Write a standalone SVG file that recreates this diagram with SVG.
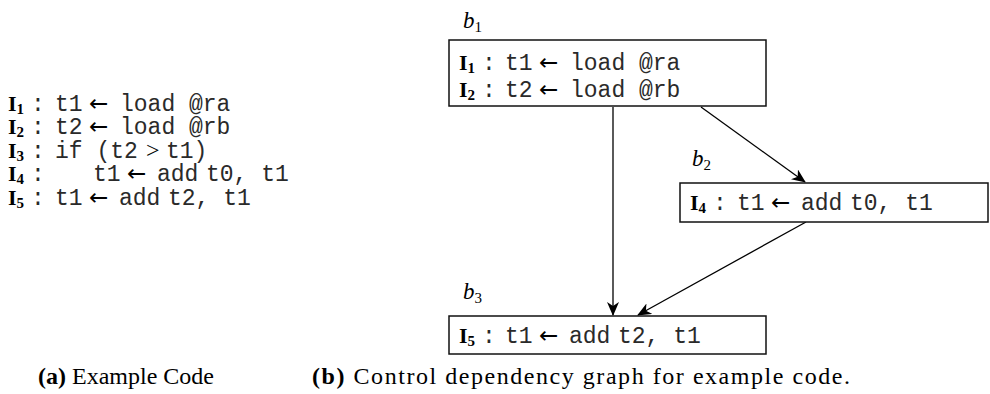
<svg xmlns="http://www.w3.org/2000/svg" width="990" height="394" viewBox="0 0 990 394">
<defs>
<style>
.m{font-family:"Liberation Mono","DejaVu Sans Mono",monospace;font-size:23px;fill:#2a2a2a}
.i{font-family:"Liberation Serif","DejaVu Serif",serif;font-weight:bold;font-size:22px;fill:#000}
.s{font-family:"Liberation Serif","DejaVu Serif",serif;font-weight:bold;font-size:15px;fill:#000}
.ar{font-family:"DejaVu Sans","Liberation Sans",sans-serif;font-size:23px;fill:#000}
.gt{font-family:"Liberation Serif","DejaVu Serif",serif;font-size:24px;fill:#000}
.lb{font-family:"Liberation Serif","DejaVu Serif",serif;font-style:italic;font-size:23px;fill:#000}
.ls{font-family:"Liberation Serif","DejaVu Serif",serif;font-size:15px;fill:#000}
.cap{font-family:"Liberation Serif","DejaVu Serif",serif;font-size:24px;fill:#000}
.box{fill:#fff;stroke:#111;stroke-width:1.5}
.edge{fill:none;stroke:#000;stroke-width:1.3}
</style>
<marker id="ah" viewBox="0 0 14 12" refX="13" refY="6" markerWidth="14" markerHeight="12" markerUnits="userSpaceOnUse" orient="auto">
<path d="M0,0 L14,6 L0,12 L4,6 z" fill="#000"/>
</marker>
</defs>

<g id="code">
<text y="111"><tspan class="i" x="8">I</tspan><tspan class="s" dy="3">1</tspan><tspan class="m" x="31" dy="-3">:</tspan><tspan class="m" x="55">t1</tspan><tspan class="ar" x="89">←</tspan><tspan class="m" x="120">load @ra</tspan></text>
<text y="134"><tspan class="i" x="8">I</tspan><tspan class="s" dy="3">2</tspan><tspan class="m" x="31" dy="-3">:</tspan><tspan class="m" x="55">t2</tspan><tspan class="ar" x="89">←</tspan><tspan class="m" x="120">load @rb</tspan></text>
<text y="158"><tspan class="i" x="8">I</tspan><tspan class="s" dy="3">3</tspan><tspan class="m" x="31" dy="-3">:</tspan><tspan class="m" x="55">if (t2</tspan><tspan class="gt" x="146">&gt;</tspan><tspan class="m" x="166">t1)</tspan></text>
<text y="181"><tspan class="i" x="8">I</tspan><tspan class="s" dy="3">4</tspan><tspan class="m" x="31" dy="-3">:</tspan><tspan class="m" x="93">t1</tspan><tspan class="ar" x="127">←</tspan><tspan class="m" x="157">add</tspan><tspan class="m" x="206">t0, t1</tspan></text>
<text y="205"><tspan class="i" x="8">I</tspan><tspan class="s" dy="3">5</tspan><tspan class="m" x="31" dy="-3">:</tspan><tspan class="m" x="55">t1</tspan><tspan class="ar" x="89">←</tspan><tspan class="m" x="119">add</tspan><tspan class="m" x="168">t2, t1</tspan></text>
</g>

<g id="edges">
<line class="edge" x1="613" y1="107" x2="613" y2="315" marker-end="url(#ah)"/>
<line class="edge" x1="701" y1="107" x2="805" y2="182" marker-end="url(#ah)"/>
<line class="edge" x1="806" y1="222" x2="638" y2="315" marker-end="url(#ah)"/>
</g>

<g id="b1">
<text x="463" y="28"><tspan class="lb">b</tspan><tspan class="ls" dy="4">1</tspan></text>
<rect class="box" x="449" y="40" width="317" height="66"/>
<text y="70"><tspan class="i" x="459">I</tspan><tspan class="s" dy="3">1</tspan><tspan class="m" x="482" dy="-3">:</tspan><tspan class="m" x="505">t1</tspan><tspan class="ar" x="539">←</tspan><tspan class="m" x="570">load @ra</tspan></text>
<text y="97"><tspan class="i" x="459">I</tspan><tspan class="s" dy="3">2</tspan><tspan class="m" x="482" dy="-3">:</tspan><tspan class="m" x="505">t2</tspan><tspan class="ar" x="539">←</tspan><tspan class="m" x="570">load @rb</tspan></text>
</g>

<g id="b2">
<text x="692" y="166"><tspan class="lb">b</tspan><tspan class="ls" dy="4">2</tspan></text>
<rect class="box" x="680" y="183" width="308" height="39"/>
<text y="210"><tspan class="i" x="690">I</tspan><tspan class="s" dy="3">4</tspan><tspan class="m" x="713" dy="-3">:</tspan><tspan class="m" x="737">t1</tspan><tspan class="ar" x="771">←</tspan><tspan class="m" x="801">add</tspan><tspan class="m" x="850">t0, t1</tspan></text>
</g>

<g id="b3">
<text x="463" y="299"><tspan class="lb">b</tspan><tspan class="ls" dy="4">3</tspan></text>
<rect class="box" x="449" y="316" width="317" height="38"/>
<text y="343"><tspan class="i" x="459">I</tspan><tspan class="s" dy="3">5</tspan><tspan class="m" x="482" dy="-3">:</tspan><tspan class="m" x="505">t1</tspan><tspan class="ar" x="539">←</tspan><tspan class="m" x="569">add</tspan><tspan class="m" x="618">t2, t1</tspan></text>
</g>

<g id="captions">
<text class="cap" x="38" y="384"><tspan font-weight="bold">(a)</tspan> Example Code</text>
<text class="cap" x="312" y="384" textLength="538"><tspan font-weight="bold">(b)</tspan> Control dependency graph for example code.</text>
</g>
</svg>
